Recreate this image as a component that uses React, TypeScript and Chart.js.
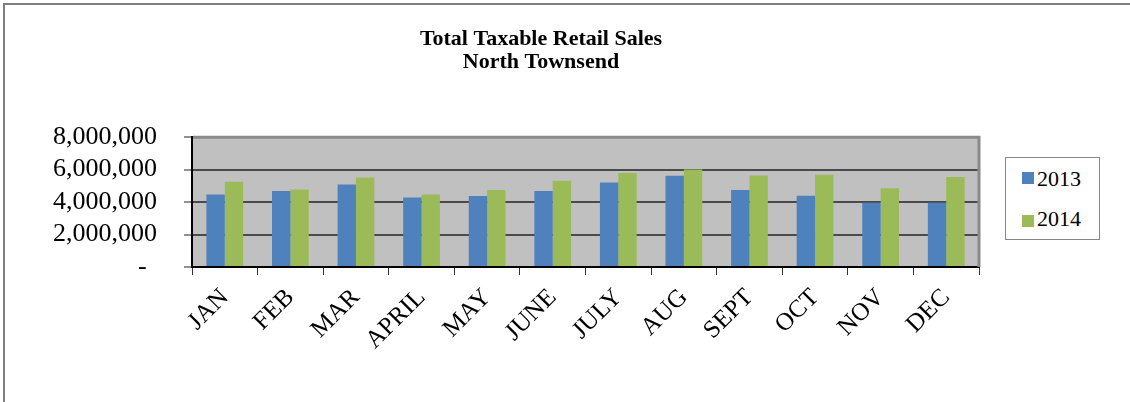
import React, { useEffect, useRef } from 'react';
import { Chart, registerables } from 'chart.js';

Chart.register(...registerables);

const months = ['JAN', 'FEB', 'MAR', 'APRIL', 'MAY', 'JUNE', 'JULY', 'AUG', 'SEPT', 'OCT', 'NOV', 'DEC'];
const sales2013 = [4470000, 4680000, 5090000, 4290000, 4370000, 4680000, 5210000, 5620000, 4740000, 4390000, 3960000, 3960000];
const sales2014 = [5250000, 4780000, 5520000, 4470000, 4740000, 5310000, 5800000, 6010000, 5640000, 5680000, 4860000, 5540000];
const yTicks = [0, 2000000, 4000000, 6000000, 8000000];
const titleLines = ['Total Taxable Retail Sales', 'North Townsend'];
const seriesNames = ['2013', '2014'];
const seriesColors = ['#4F81BD', '#9BBB59'];

const SERIF = "'Liberation Serif', 'Times New Roman', serif";

const plotFrame = {
  id: 'plotFrame',
  beforeDraw(chart: any) {
    const { ctx, chartArea: a } = chart;
    ctx.save();
    ctx.fillStyle = '#C0C0C0';
    ctx.fillRect(a.left, a.top, a.right - a.left, a.bottom - a.top);
    ctx.restore();
  },
  afterDatasetsDraw(chart: any) {
    const { ctx, chartArea: a } = chart;
    ctx.save();
    ctx.strokeStyle = '#8a8a8a';
    ctx.lineWidth = 3;
    ctx.beginPath();
    ctx.moveTo(a.left + 1, a.top);
    ctx.lineTo(a.right, a.top);
    ctx.lineTo(a.right, a.bottom);
    ctx.stroke();
    ctx.restore();
  },
};

export default function App() {
  const canvasRef = useRef<HTMLCanvasElement>(null);

  useEffect(() => {
    const canvas = canvasRef.current;
    if (!canvas) return;
    const chart = new Chart(canvas, {
      type: 'bar',
      data: {
        labels: months,
        datasets: [
          { label: seriesNames[0], data: sales2013, backgroundColor: seriesColors[0], borderWidth: 0, yAxisID: 'y' },
          { label: seriesNames[1], data: sales2014, backgroundColor: seriesColors[1], borderWidth: 0, yAxisID: 'y' },
        ],
      },
      options: {
        animation: false,
        responsive: false,
        devicePixelRatio: 1,
        layout: { padding: { left: 0, top: 0, right: 48, bottom: 0 } },
        datasets: { bar: { categoryPercentage: 0.56, barPercentage: 1 } },
        plugins: {
          legend: { display: false },
          tooltip: { enabled: false },
          title: {
            display: true,
            text: titleLines,
            color: '#000',
            font: { family: SERIF, size: 22, weight: 'bold', lineHeight: 1.05 },
            padding: { top: 28, bottom: 63 },
          },
        },
        scales: {
          x: {
            grid: { display: true, drawOnChartArea: false, drawTicks: true, tickLength: 8, color: '#333', offset: true },
            border: { display: true, color: '#000', width: 2 },
            ticks: {
              color: '#000',
              font: { family: SERIF, size: 25 },
              minRotation: 45,
              maxRotation: 45,
              autoSkip: false,
              padding: 8,
            },
            afterFit: (s: any) => { s.height = 135; },
          },
          y: {
            min: 0,
            max: 8000000,
            afterBuildTicks: (s: any) => { s.ticks = yTicks.map((v) => ({ value: v })); },
            grid: { color: '#4a4a4a', lineWidth: 2, tickLength: 8, tickColor: '#222', tickWidth: 1 },
            border: { display: true, color: '#000', width: 2 },
            ticks: {
              autoSkip: false,
              color: '#000',
              font: { family: SERIF, size: 26 },
              padding: 27,
              callback: (v: any) => (Number(v) === 0 ? '-\u2009\u2009' : Number(v).toLocaleString('en-US')),
            },
            afterFit: (s: any) => { s.width = 192; },
          },
          spacer: {
            type: 'linear',
            position: 'right',
            display: true,
            grid: { display: false, drawTicks: false },
            border: { display: false },
            ticks: { display: false },
            afterFit: (s: any) => { s.width = 103; },
          },
        },
      },
      plugins: [plotFrame],
    });
    return () => chart.destroy();
  }, []);

  const legendTop = [168, 208];
  const squareTop = [172, 215];

  return (
    <div style={{ position: 'absolute', left: 0, top: 0, width: 1130, height: 402, background: '#fff', overflow: 'hidden' }}>
      <div style={{ position: 'absolute', left: 3, top: 3, width: 1140, height: 410, borderLeft: '2px solid #7f7f7f', borderTop: '2px solid #7f7f7f' }} />
      <canvas ref={canvasRef} width={1130} height={402} style={{ position: 'absolute', left: 0, top: 0, width: 1130, height: 402 }} />
      <div style={{ position: 'absolute', left: 1005, top: 157, width: 95, height: 83, boxSizing: 'border-box', border: '1px solid #878787', background: '#fff' }} />
      {seriesNames.map((name, i) => (
        <React.Fragment key={name}>
          <div style={{ position: 'absolute', left: 1022, top: squareTop[i], width: 12, height: 12, background: seriesColors[i] }} />
          <div style={{ position: 'absolute', left: 1037, top: legendTop[i], font: `22px ${SERIF}`, lineHeight: '22px', color: '#000' }}>{name}</div>
        </React.Fragment>
      ))}
    </div>
  );
}
